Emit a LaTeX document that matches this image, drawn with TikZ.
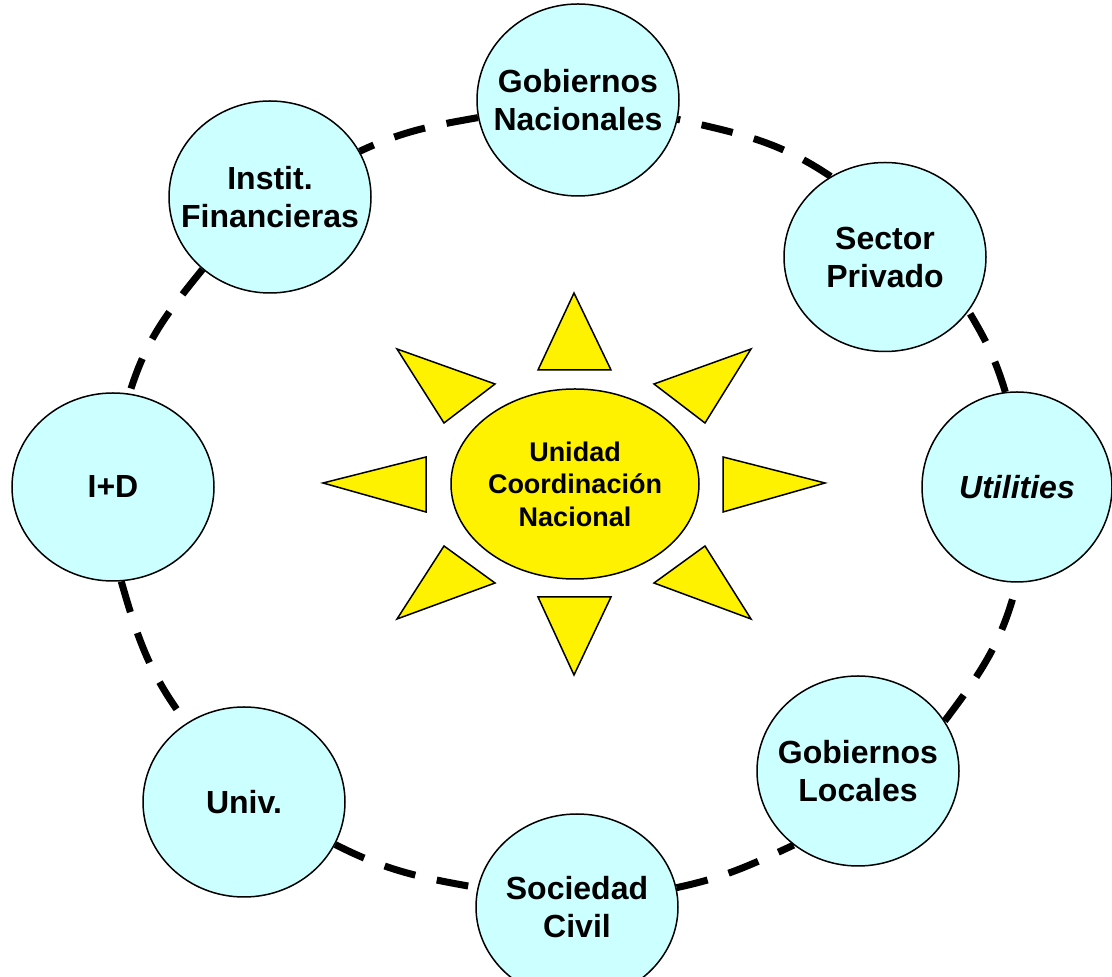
\documentclass[tikz,border=0pt]{standalone}
\usepackage{fontspec}
\setmainfont{Liberation Sans}
\usetikzlibrary{shapes.geometric}
\definecolor{celeste}{HTML}{CCFFFF}

\begin{document}
\begin{tikzpicture}[x=1pt,y=1pt,
    actor/.style={ellipse,draw,line width=1.5pt,fill=celeste,inner sep=-30pt,
        minimum width=202pt,minimum height=192pt,align=center,
        font=\fontsize{32}{38}\selectfont\bfseries},
    ring/.style={line width=7pt,dash pattern=on 32pt off 22pt},
    ray/.style={draw,fill=yellow,line width=1.5pt,line join=miter}]

    \useasboundingbox (0,0) rectangle (1112,977);

    % Rays of the sun around the central unit
    \foreach \ax/\ay/\bx/\by/\cx/\cy in {
    574/684/538/607/611/607,
    538/380/611/380/574/302,
    323/494/426/520/426/465,
    723/520/723/465/825/494,
    397/628/495/593/444/554,
    751/628/654/593/705/554,
    397/358/495/394/444/431,
    751/358/654/394/705/431} {
    \draw[ray] (\ax,\ay) -- (\bx,\by) -- (\cx,\cy) -- cycle;
    }

    % Central unit
    \node[ellipse,draw,line width=1.5pt,fill=yellow,inner sep=-30pt,
        minimum width=248pt,minimum height=190pt,align=center,
        font=\fontsize{27}{32.5}\selectfont\bfseries] (unidad) at (575,493)
        {Unidad\\Coordinación\\Nacional};

    % Actors on the ring
    \node[actor] (gn) at (578,877) {Gobiernos\\Nacionales};
    \node[actor] (fin) at (270,780) {Instit.\\Financieras};
    \node[actor, minimum height=189pt] (sp) at (885,720) {Sector\\Privado};
    \node[actor, minimum width=190pt, minimum height=190pt] (ut) at (1017,490) {\itshape Utilities};
    \node[actor, minimum height=188pt] (id) at (113,490) {I+D};
    \node[actor, minimum height=190pt] (univ) at (244,175) {Univ.};
    \node[actor, minimum height=186pt] (sc) at (577,70) {Sociedad\\Civil};
    \node[actor, minimum height=190pt] (gl) at (858,206) {Gobiernos\\Locales};

    % Dashed ring from actor to actor
    \draw[ring] (ut.97) to[out=107,in=301] (sp.-33);
    \draw[ring] (sp.124) to[out=146,in=347] (gn.-11);
    \draw[ring] (gn.190) to[out=190,in=25] (fin.27);
    \draw[ring] (fin.227) to[out=231,in=73] (id.80);
    \draw[ring] (id.275) to[out=286,in=127] (univ.126);
    \draw[ring] (univ.-25) to[out=-27,in=170] (sc.169);
    \draw[ring] (sc.11) to[out=12,in=205] (gl.229);
    \draw[ring] (gl.30) to[out=53,in=256] (ut.270);

\end{tikzpicture}
\end{document}
